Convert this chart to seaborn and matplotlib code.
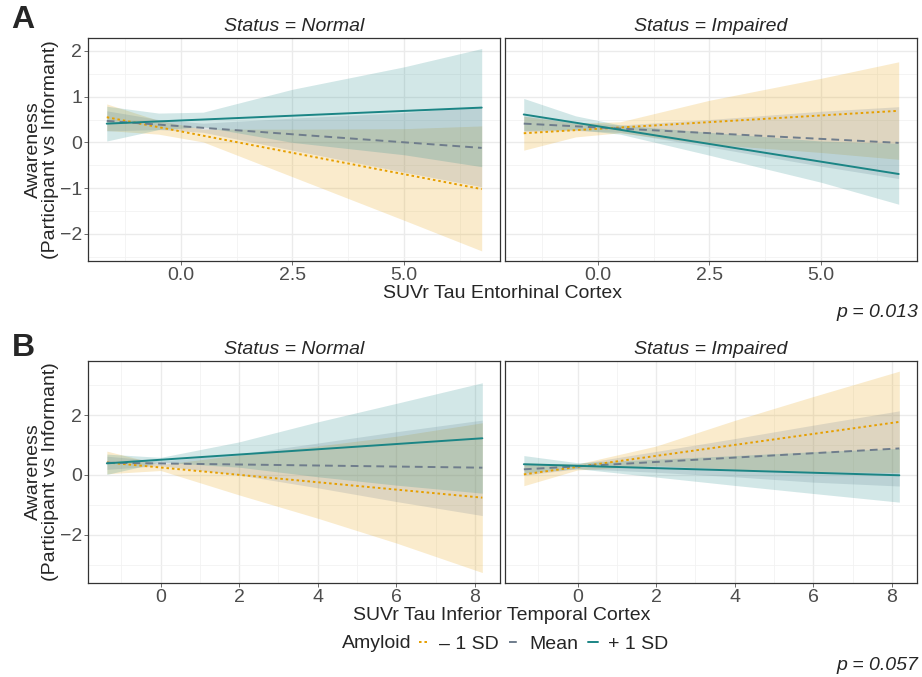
import matplotlib
matplotlib.use("Agg")
import matplotlib.pyplot as plt
from matplotlib.lines import Line2D
from matplotlib.ticker import FixedLocator, FixedFormatter
import pandas as pd
import seaborn as sns

# --- data ---------------------------------------------------------------
levels = ["\u2013 1 SD", "Mean", "+ 1 SD"]
statuses = ["Normal", "Impaired"]

# Panel A: SUVr Tau Entorhinal Cortex
ec_x_line = [-1.66, 6.74]
ec_x_band = [-1.66, -0.5, 0.5, 2.5, 5.0, 6.74]

ec_normal_fit = {"\u2013 1 SD": [0.55, -1.02], "Mean": [0.47, -0.12], "+ 1 SD": [0.41, 0.76]}
ec_normal_lo = {"\u2013 1 SD": [0.26, 0.18, 0.01, -0.75, -1.70, -2.37],
                "Mean": [0.25, 0.28, 0.22, -0.17, -0.65, -0.97],
                "+ 1 SD": [0.03, 0.28, 0.34, 0.00, -0.27, -0.53]}
ec_normal_hi = {"\u2013 1 SD": [0.84, 0.48, 0.29, 0.29, 0.30, 0.36],
                "Mean": [0.69, 0.50, 0.42, 0.53, 0.65, 0.79],
                "+ 1 SD": [0.79, 0.64, 0.66, 1.16, 1.65, 2.05]}

ec_impaired_fit = {"\u2013 1 SD": [0.20, 0.69], "Mean": [0.41, -0.01], "+ 1 SD": [0.61, -0.69]}
ec_impaired_lo = {"\u2013 1 SD": [-0.17, 0.12, 0.21, -0.04, -0.22, -0.37],
                  "Mean": [0.24, 0.26, 0.22, -0.10, -0.52, -0.79],
                  "+ 1 SD": [0.26, 0.28, 0.18, -0.28, -0.87, -1.35]}
ec_impaired_hi = {"\u2013 1 SD": [0.57, 0.42, 0.45, 0.92, 1.40, 1.76],
                  "Mean": [0.58, 0.44, 0.38, 0.50, 0.68, 0.78],
                  "+ 1 SD": [0.96, 0.58, 0.38, 0.22, 0.03, -0.02]}

# Panel B: SUVr Tau Inferior Temporal Cortex
it_x_line = [-1.37, 8.19]
it_x_band = [-1.37, 0.0, 2.0, 4.0, 6.0, 8.19]

it_normal_fit = {"\u2013 1 SD": [0.42, -0.76], "Mean": [0.41, 0.245], "+ 1 SD": [0.39, 1.23]}
it_normal_lo = {"\u2013 1 SD": [0.04, 0.15, -0.67, -1.45, -2.28, -3.27],
                "Mean": [0.19, 0.31, 0.00, -0.43, -0.89, -1.36],
                "+ 1 SD": [0.02, 0.43, 0.26, -0.06, -0.34, -0.61]}
it_normal_hi = {"\u2013 1 SD": [0.80, 0.35, 0.67, 0.97, 1.30, 1.75],
                "Mean": [0.63, 0.47, 0.70, 1.07, 1.45, 1.84],
                "+ 1 SD": [0.70, 0.59, 1.11, 1.78, 2.40, 3.09]}

it_impaired_fit = {"\u2013 1 SD": [0.02, 1.78], "Mean": [0.19, 0.89], "+ 1 SD": [0.36, -0.01]}
it_impaired_lo = {"\u2013 1 SD": [-0.36, 0.17, 0.31, 0.19, 0.11, 0.08],
                  "Mean": [-0.01, 0.21, 0.09, -0.06, -0.24, -0.37],
                  "+ 1 SD": [0.07, 0.21, -0.07, -0.35, -0.62, -0.91]}
it_impaired_hi = {"\u2013 1 SD": [0.40, 0.37, 0.97, 1.83, 2.63, 3.48],
                  "Mean": [0.39, 0.37, 0.79, 1.22, 1.67, 2.15],
                  "+ 1 SD": [0.65, 0.41, 0.53, 0.65, 0.78, 0.89]}

line_colors = {"\u2013 1 SD": "#E69F00", "Mean": "#6F7D8C", "+ 1 SD": "#1B8585"}
fill_colors = {"\u2013 1 SD": "#E69F00", "Mean": "#708090", "+ 1 SD": "#1F8A8A"}
dash_styles = {"\u2013 1 SD": (1.3, 1.5), "Mean": (4, 2.6), "+ 1 SD": ""}

# --- style ----------------------------------------------------------------
sns.set_theme(style="white")
plt.rcParams["font.family"] = ["Liberation Sans", "DejaVu Sans"]
FS = 14
TICK_COLOR = "#4D4D4D"

fig = plt.figure(figsize=(9.22, 6.77), dpi=100)
W, H = 922, 677


def add_axes(x0, y0, x1, y1):
    return fig.add_axes([x0 / W, 1 - y1 / H, (x1 - x0) / W, (y1 - y0) / H])


def style_axes(ax, xlim, ylim, xmaj, xlabels, xmin, ymaj, ymin, show_y):
    ax.set_xlim(*xlim)
    ax.set_ylim(*ylim)
    ax.xaxis.set_major_locator(FixedLocator(xmaj))
    ax.xaxis.set_major_formatter(FixedFormatter(xlabels))
    ax.xaxis.set_minor_locator(FixedLocator(xmin))
    ax.yaxis.set_major_locator(FixedLocator(ymaj))
    ax.yaxis.set_minor_locator(FixedLocator(ymin))
    ax.grid(True, which="major", color="#EBEBEB", lw=1.0)
    ax.grid(True, which="minor", color="#F2F2F2", lw=0.6)
    ax.set_axisbelow(True)
    for s in ax.spines.values():
        s.set_color("#333333")
        s.set_linewidth(0.9)
    ax.tick_params(axis="both", which="major", labelsize=FS, labelcolor=TICK_COLOR,
                   color="#333333", length=2.75, width=0.5, pad=1.5, bottom=True, left=show_y)
    ax.tick_params(axis="both", which="minor", length=0)
    if not show_y:
        ax.tick_params(axis="y", labelleft=False, left=False)
    ax.set_xlabel("")
    ax.set_ylabel("")


def draw_panel(ax, title, x_line, x_band, fit, lo, hi):
    for lev in levels:
        ax.fill_between(x_band, lo[lev], hi[lev], color=fill_colors[lev], alpha=0.2, lw=0)
    df = pd.DataFrame({
        "x": x_line * len(levels),
        "y": [v for lev in levels for v in fit[lev]],
        "level": [lev for lev in levels for _ in x_line],
    })
    sns.lineplot(data=df, x="x", y="y", hue="level", style="level", hue_order=levels,
                 style_order=levels, palette=line_colors, dashes=dash_styles,
                 linewidth=1.4, legend=False, ax=ax, sort=False)
    ax.set_title(f"Status = {title}", fontsize=FS, style="italic", pad=5)


ec_xlim = (-2.08, 7.15)
ec_ylim = (-2.59, 2.28)
it_xlim = (-1.85, 8.64)
it_ylim = (-3.62, 3.82)

panels = [
    (add_axes(88, 38, 500, 261), "Normal", ec_x_line, ec_x_band, ec_normal_fit, ec_normal_lo, ec_normal_hi, "ec", True),
    (add_axes(505, 38, 917, 261), "Impaired", ec_x_line, ec_x_band, ec_impaired_fit, ec_impaired_lo, ec_impaired_hi, "ec", False),
    (add_axes(88, 361, 500, 583), "Normal", it_x_line, it_x_band, it_normal_fit, it_normal_lo, it_normal_hi, "it", True),
    (add_axes(505, 361, 917, 583), "Impaired", it_x_line, it_x_band, it_impaired_fit, it_impaired_lo, it_impaired_hi, "it", False),
]

for ax, title, xl, xb, fit, lo, hi, kind, show_y in panels:
    draw_panel(ax, title, xl, xb, fit, lo, hi)
    if kind == "ec":
        style_axes(ax, ec_xlim, ec_ylim, [0, 2.5, 5.0], ["0.0", "2.5", "5.0"],
                   [-1.25, 1.25, 3.75, 6.25], [-2, -1, 0, 1, 2],
                   [-2.5, -1.5, -0.5, 0.5, 1.5], show_y)
    else:
        style_axes(ax, it_xlim, it_ylim, [0, 2, 4, 6, 8], ["0", "2", "4", "6", "8"],
                   [-1, 1, 3, 5, 7], [-2, 0, 2], [-3, -1, 1, 3], show_y)

# texts
ylab = "Awareness\n(Participant vs Informant)"
fig.text(42 / W, 1 - 150 / H, ylab, rotation=90, ha="center", va="center",
         fontsize=FS, multialignment="center", linespacing=0.95)
fig.text(42 / W, 1 - 472 / H, ylab, rotation=90, ha="center", va="center",
         fontsize=FS, multialignment="center", linespacing=0.95)
fig.text(502 / W, 1 - 294 / H, "SUVr Tau Entorhinal Cortex", ha="center", va="center", fontsize=FS)
fig.text(502 / W, 1 - 615 / H, "SUVr Tau Inferior Temporal Cortex", ha="center", va="center", fontsize=FS)
fig.text(918 / W, 1 - 313 / H, "p = 0.013", ha="right", va="center", fontsize=FS, style="italic")
fig.text(918 / W, 1 - 665 / H, "p = 0.057", ha="right", va="center", fontsize=FS, style="italic")
fig.text(23 / W, 1 - 20 / H, "A", ha="center", va="center", fontsize=23, fontweight="bold")
fig.text(23 / W, 1 - 348 / H, "B", ha="center", va="center", fontsize=23, fontweight="bold")

# legend
fig.text(342 / W, 1 - 644 / H, "Amyloid", ha="left", va="center", fontsize=FS)
handles = [Line2D([], [], color=line_colors[lev], lw=1.4,
                  linestyle=(0, dash_styles[lev]) if dash_styles[lev] else "-")
           for lev in levels]
fig.legend(handles, levels, loc="center left", bbox_to_anchor=(419 / W, 1 - 644 / H),
           ncol=3, frameon=False, fontsize=FS, handlelength=0.5, handletextpad=0.55,
           columnspacing=0.5, borderpad=0, borderaxespad=0)

fig.savefig("out.png", dpi=100)
